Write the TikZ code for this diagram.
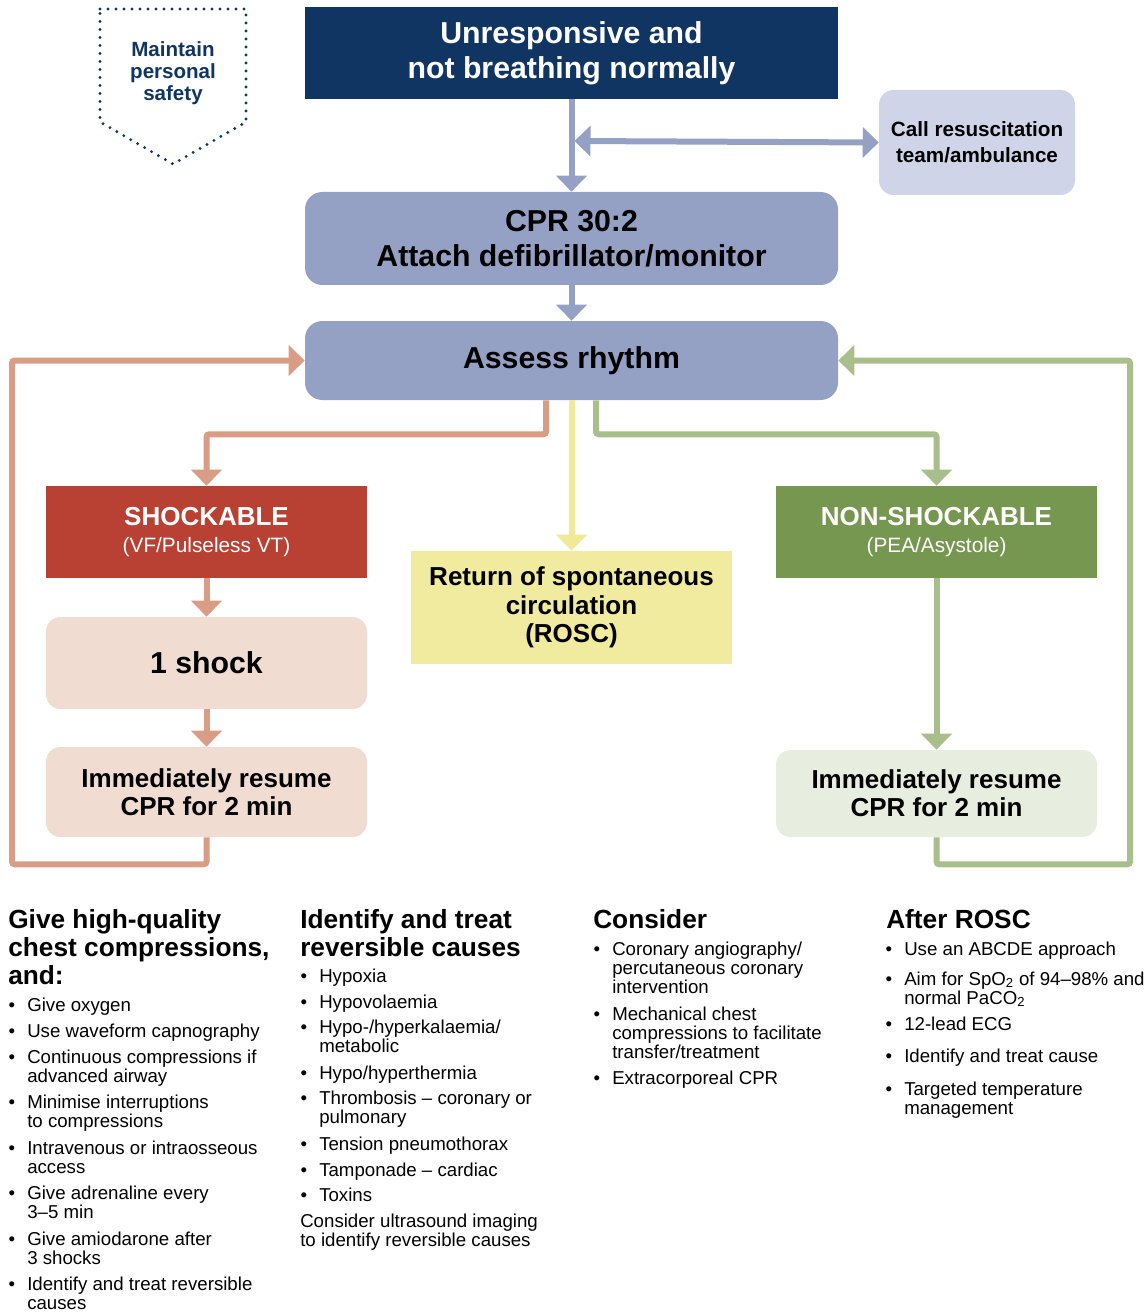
\documentclass[tikz,border=0pt]{standalone}
\usepackage{fontspec}
\setmainfont{Liberation Sans}
\usetikzlibrary{arrows.meta}

\definecolor{navy}{RGB}{16,53,99}
\definecolor{lav}{RGB}{208,212,232}
\definecolor{slate}{RGB}{148,161,196}
\definecolor{rust}{RGB}{217,157,133}
\definecolor{shockred}{RGB}{184,65,52}
\definecolor{peach}{RGB}{240,220,209}
\definecolor{lemon}{RGB}{240,235,158}
\definecolor{lemonline}{RGB}{239,233,154}
\definecolor{leaf}{RGB}{118,151,79}
\definecolor{sage}{RGB}{168,190,139}
\definecolor{mint}{RGB}{231,238,223}

\newcommand{\bul}{\llap{\textbullet\hspace{9pt}}}

\begin{document}
\begin{tikzpicture}[x=0.75pt,y=-0.75pt,
  box/.style 2 args={inner sep=0pt, align=center,
    minimum width=#1*0.75pt, minimum height=#2*0.75pt},
  bigfont/.style={font=\bfseries\fontsize{22.7}{26.6}\selectfont},
  midfont/.style={font=\bfseries\fontsize{19.5}{21.2}\selectfont},
  callfont/.style={font=\bfseries\fontsize{15.5}{19.5}\selectfont},
  flow/.style={line width=4.5pt, rounded corners=2pt,
    -{Triangle[length=12pt,width=22.5pt]}},
  head/.style={anchor=base west, inner sep=0pt, align=left,
    font=\bfseries\fontsize{19.7}{21}\selectfont},
  item/.style={anchor=base west, inner sep=0pt, align=left,
    font=\fontsize{14}{14.25}\selectfont}]

\useasboundingbox (0,0) rectangle (1147,1312);

% personal safety badge
\draw[navy, line width=2.4pt, line cap=round, dash pattern=on 0pt off 6pt]
  (100,9) -- (246,9) -- (246,122) -- (173,164) -- (100,122) -- cycle;
\node[text=navy, align=center, font=\bfseries\fontsize{15.4}{16.5}\selectfont]
  (safety) at (173,73) {Maintain\\personal\\safety};

% main boxes
\node[box={533}{92}, fill=navy, text=white, bigfont] (top) at (571.5,53)
  {Unresponsive and\\not breathing normally};
\node[box={196}{105}, fill=lav, rounded corners=11pt, callfont] (call) at (977,142.5)
  {Call resuscitation\\team/ambulance};
\node[box={533}{93}, fill=slate, rounded corners=13pt, bigfont] (cpr) at (571.5,238.5)
  {CPR 30:2\\Attach defibrillator/monitor};
\node[box={533}{79}, fill=slate, rounded corners=13pt, bigfont] (assess) at (571.5,360.5)
  {Assess rhythm};

\node[box={321}{92}, fill=shockred, text=white, midfont] (shock) at (206.5,532)
  {SHOCKABLE\\[-1pt]{\mdseries\fontsize{15.6}{18}\selectfont (VF/Pulseless VT)}};
\node[box={321}{92}, fill=peach, rounded corners=11pt, bigfont] (oneshock) at (206.5,663)
  {1 shock};
\node[box={321}{90}, fill=peach, rounded corners=11pt, midfont] (resumeL) at (206.5,792)
  {Immediately resume\\CPR for 2 min};

\node[box={321}{113}, fill=lemon, midfont] (rosc) at (571.5,607.5)
  {Return of spontaneous\\circulation\\(ROSC)};

\node[box={321}{92}, fill=leaf, text=white, midfont] (nonshock) at (936.5,532)
  {NON-SHOCKABLE\\[-1pt]{\mdseries\fontsize{15.6}{18}\selectfont (PEA/Asystole)}};
\node[box={321}{87}, fill=mint, rounded corners=11pt, midfont] (resumeR) at (936.5,793.5)
  {Immediately resume\\CPR for 2 min};

% connectors
\coordinate (jn) at (574.5,141);
\coordinate (lbend) at (12,360.5);
\coordinate (rbend) at (1130,360.5);

\draw[flow, slate] (top.south) -- (cpr.north);
\draw[line width=4.5pt, slate,
  {Triangle[length=12pt,width=22.5pt]}-{Triangle[length=12pt,width=22.5pt]}]
  (jn) -- (call.west);
\draw[flow, slate] (cpr.south) -- (assess.north);

\draw[flow, rust] ([xshift=-19.1pt]assess.south) -- ++(0,34) -| (shock.north);
\draw[flow, lemonline] (assess.south) -- (rosc.north);
\draw[flow, sage] ([xshift=18.4pt]assess.south) -- ++(0,34) -| (nonshock.north);

\draw[flow, rust] (shock.south) -- (oneshock.north);
\draw[flow, rust] (oneshock.south) -- (resumeL.north);
\draw[flow, rust] (resumeL.south) -- ++(0,27) -| (lbend) -- (assess.west);

\draw[flow, sage] (nonshock.south) -- (resumeR.north);
\draw[flow, sage] (resumeR.south) -- ++(0,27) -| (rbend) -- (assess.east);

% column 1 (nodes sit on the baseline of their last line)
\node[head] (h1) at (8,984) {Give high-quality\\chest compressions,\\and:};
\node[item] (a1) at (27,1011) {\bul Give oxygen};
\node[item] (a2) at (27,1037) {\bul Use waveform capnography};
\node[item] (a3) at (27,1082) {\bul Continuous compressions if\\advanced airway};
\node[item] (a4) at (27,1127.5) {\bul Minimise interruptions\\to compressions};
\node[item] (a5) at (27,1173) {\bul Intravenous or intraosseous\\access};
\node[item] (a6) at (27,1218.5) {\bul Give adrenaline every\\3–5 min};
\node[item] (a7) at (27,1264) {\bul Give amiodarone after\\3 shocks};
\node[item] (a8) at (27,1309.5) {\bul Identify and treat reversible\\causes};

% column 2
\node[head] (h2) at (300,956) {Identify and treat\\reversible causes};
\node[item] (b1) at (319,982.5) {\bul Hypoxia};
\node[item] (b2) at (319,1008) {\bul Hypovolaemia};
\node[item] (b3) at (319,1052.5) {\bul Hypo-/hyperkalaemia/\\metabolic};
\node[item] (b4) at (319,1079) {\bul Hypo/hyperthermia};
\node[item] (b5) at (319,1123.5) {\bul Thrombosis – coronary or\\pulmonary};
\node[item] (b6) at (319,1150) {\bul Tension pneumothorax};
\node[item] (b7) at (319,1176) {\bul Tamponade – cardiac};
\node[item] (b8) at (319,1201.5) {\bul Toxins};
\node[item] (b9) at (300,1246.5) {Consider ultrasound imaging\\to identify reversible causes};

% column 3
\node[head] (h3) at (593,928) {Consider};
\node[item] (c1) at (612,993) {\bul Coronary angiography/\\percutaneous coronary\\intervention};
\node[item] (c2) at (612,1058) {\bul Mechanical chest\\compressions to facilitate\\transfer/treatment};
\node[item] (c3) at (612,1084) {\bul Extracorporeal CPR};

% column 4
\node[head] (h4) at (886,928) {After ROSC};
\node[item] (d1) at (904,955) {\bul Use an ABCDE approach};
\node[item] (d2) at (904,1004) {\bul Aim for SpO\textsubscript{2} of 94–98\% and\\normal PaCO\textsubscript{2}};
\node[item] (d3) at (904,1030) {\bul 12-lead ECG};
\node[item] (d4) at (904,1062) {\bul Identify and treat cause};
\node[item] (d5) at (904,1114) {\bul Targeted temperature\\management};

\end{tikzpicture}
\end{document}
